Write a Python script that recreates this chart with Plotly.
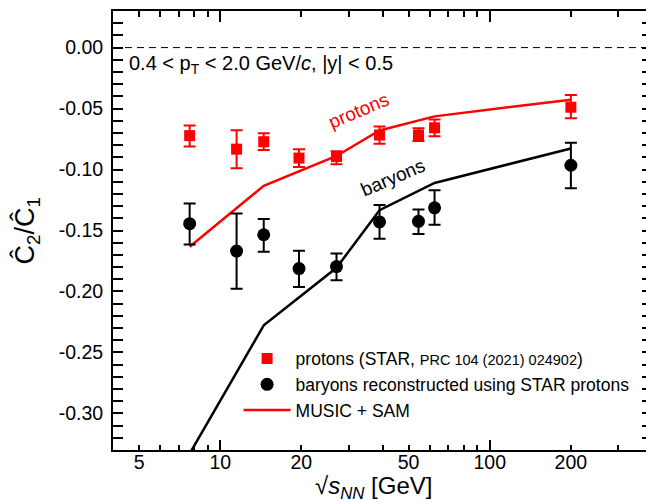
import plotly.graph_objects as go
import numpy as np

# ---- data ----
energies = [7.7, 11.5, 14.5, 19.6, 27, 39, 54.4, 62.4, 200]

proton_vals = [-0.0722, -0.0833, -0.0772, -0.0906, -0.0894, -0.0717, -0.0717, -0.0658, -0.0489]
proton_err_up = [0.0083, 0.0155, 0.0069, 0.0073, 0.0044, 0.0070, 0.0056, 0.0069, 0.0100]
proton_err_dn = [0.0089, 0.0157, 0.0068, 0.0074, 0.0062, 0.0072, 0.0050, 0.0070, 0.0090]

baryon_vals = [-0.1444, -0.1669, -0.1535, -0.1812, -0.1796, -0.1430, -0.1425, -0.1314, -0.0965]
baryon_err_up = [0.0166, 0.0308, 0.0130, 0.0145, 0.0108, 0.0140, 0.0097, 0.0144, 0.0185]
baryon_err_dn = [0.0170, 0.0309, 0.0140, 0.0152, 0.0112, 0.0138, 0.0103, 0.0139, 0.0188]

model_energies = [7.7, 14.5, 27, 39, 62.4, 200]
model_protons = [-0.1633, -0.1133, -0.0889, -0.0680, -0.0564, -0.0427]
model_baryons = [-0.3330, -0.2278, -0.1806, -0.1333, -0.1110, -0.0828]

x_tickvals = [5, 10, 20, 50, 100, 200]
x_ticktext = ["5", "10", "20", "50", "100", "200"]
x_long_ticks = [10, 100]
y_tickvals = [-0.30, -0.25, -0.20, -0.15, -0.10, -0.05, 0.00]
y_ticktext = ["-0.30", "-0.25", "-0.20", "-0.15", "-0.10", "-0.05", "0.00"]

FONT = "Liberation Sans, Arial, Helvetica, sans-serif"
RED = "#ff0000"

fig = go.Figure()

# model lines
fig.add_trace(go.Scatter(
    x=model_energies, y=model_protons, mode="lines",
    line=dict(color=RED, width=2.5), name="MUSIC + SAM",
    legendgroup="c", legendrank=3, cliponaxis=True))
fig.add_trace(go.Scatter(
    x=model_energies, y=model_baryons, mode="lines",
    line=dict(color="black", width=2.5), showlegend=False, cliponaxis=True))

# data points
fig.add_trace(go.Scatter(
    x=energies, y=proton_vals, mode="markers",
    marker=dict(symbol="square", size=11, color=RED),
    error_y=dict(type="data", symmetric=False, array=proton_err_up,
                 arrayminus=proton_err_dn, color=RED, thickness=2, width=6),
    name="protons (STAR, <span style='font-size:14.5px'>PRC 104 (2021) 024902</span>)",
    legendgroup="a", legendrank=1))
fig.add_trace(go.Scatter(
    x=energies, y=baryon_vals, mode="markers",
    marker=dict(symbol="circle", size=13, color="black"),
    error_y=dict(type="data", symmetric=False, array=baryon_err_up,
                 arrayminus=baryon_err_dn, color="black", thickness=2, width=6),
    name="baryons reconstructed using STAR protons",
    legendgroup="b", legendrank=2))

# empty trace to register overlay axis for long major ticks
fig.add_trace(go.Scatter(x=[], y=[], xaxis="x2", showlegend=False, hoverinfo="skip"))

xrange = [np.log10(4), np.log10(400)]

# page body has an 8px margin -> figure is 8px smaller, margins shifted
fig.update_layout(
    template="none",
    width=646, height=494,
    margin=dict(l=105, r=2, t=3, b=52, autoexpand=False),
    paper_bgcolor="white", plot_bgcolor="white",
    font=dict(family=FONT, color="black", size=19.5),
    showlegend=True,
    legend=dict(x=0.233, y=0.249, xanchor="left", yanchor="top",
                bgcolor="rgba(0,0,0,0)", borderwidth=0,
                font=dict(size=17.5, family=FONT), itemwidth=47,
                tracegroupgap=3, traceorder="normal"),
    xaxis=dict(
        type="log", range=xrange, automargin=False,
        tickvals=x_tickvals, ticktext=x_ticktext,
        ticks="inside", ticklen=5.5, tickwidth=2, tickcolor="black",
        showline=True, linecolor="black", linewidth=2, mirror="allticks",
        showgrid=False, zeroline=False, ticklabelstandoff=-6,
        tickfont=dict(size=19.5, family=FONT),
        minor=dict(ticks="inside", ticklen=5.5, tickwidth=2, tickcolor="black",
                   dtick="D1", showgrid=False),
    ),
    xaxis2=dict(
        type="log", range=xrange, overlaying="x", anchor="y", side="bottom",
        automargin=False,
        tickvals=x_long_ticks, showticklabels=False,
        ticks="inside", ticklen=10.5, tickwidth=2, tickcolor="black",
        showline=False, mirror="allticks", showgrid=False, zeroline=False,
    ),
    yaxis=dict(
        range=[-0.33, 0.03], automargin=False,
        tickvals=y_tickvals, ticktext=y_ticktext,
        ticks="inside", ticklen=10, tickwidth=2, tickcolor="black",
        showline=True, linecolor="black", linewidth=2, mirror="allticks",
        showgrid=False, zeroline=False, ticklabelstandoff=4,
        tickfont=dict(size=19.5, family=FONT),
        minor=dict(ticks="inside", ticklen=5.5, tickwidth=2, tickcolor="black",
                   dtick=0.01, showgrid=False),
    ),
    shapes=[dict(type="line", xref="paper", x0=0, x1=1, yref="y", y0=0, y1=0,
                 line=dict(color="black", width=1, dash="7px,5px"), layer="below")],
    annotations=[
        # axis titles
        dict(text="\u0108<sub>2</sub>/\u0108<sub>1</sub>",
             xref="paper", yref="paper", x=-0.1596, y=0.5,
             xanchor="center", yanchor="middle", textangle=-90, showarrow=False,
             font=dict(size=27, family=FONT, color="black")),
        dict(text="\u221a<i>s</i><sub><i>NN</i></sub> [GeV]",
             xref="paper", yref="paper", x=0.483, y=-0.085,
             xanchor="center", yanchor="middle", showarrow=False,
             font=dict(size=24, family=FONT, color="black")),
        dict(text="0.4 &lt; p<sub>T</sub> &lt; 2.0 GeV/<i>c</i>, |y| &lt; 0.5",
             xref="paper", yref="paper", x=0.0265, y=0.8787,
             xanchor="left", yanchor="middle", showarrow=False,
             font=dict(size=20, family=FONT, color="black")),
        dict(text="protons", xref="x", yref="y", x=np.log10(32.7), y=-0.0515,
             textangle=-23, showarrow=False,
             font=dict(size=19, family=FONT, color=RED)),
        dict(text="baryons", xref="x", yref="y", x=np.log10(43.8), y=-0.1063,
             textangle=-23, showarrow=False,
             font=dict(size=19, family=FONT, color="black")),
    ],
)

fig.write_html("out.html")
